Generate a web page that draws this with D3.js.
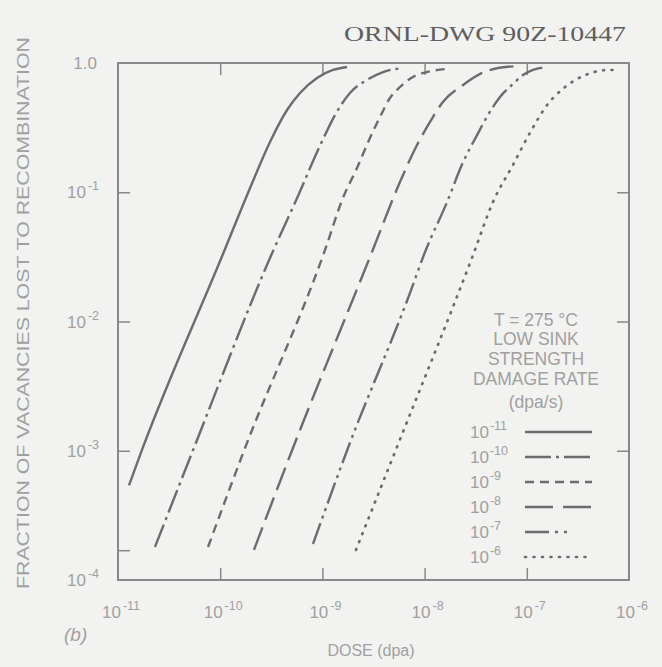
<!DOCTYPE html>
<html><head><meta charset="utf-8">
<script src="https://cdn.jsdelivr.net/npm/d3@7"></script>
<style>body{margin:0;background:#f2f2f0}svg{display:block}</style>
</head><body><svg id="c" width="662" height="667"></svg>
<script>
// ---------- data ----------
const xTickValues = [1e-11, 1e-10, 1e-9, 1e-8, 1e-7, 1e-6];
const xTickExps = ["-11", "-10", "-9", "-8", "-7", "-6"];
const yTickValues = [1e-4, 1e-3, 1e-2, 1e-1, 1];
const yTickExps = ["-4", "-3", "-2", "-1", null];
const yExtraTick = [1.7e-4];
const rateExps = ["-11", "-10", "-9", "-8", "-7", "-6"];
const legendTitle = ["T = 275 °C", "LOW SINK", "STRENGTH", "DAMAGE RATE", "(dpa/s)"];

const rate11 = [[1.28e-11,5.4e-4],[1.76e-11,1.07e-3],[1.06e-10,3.3e-2],[1.96e-10,0.108],[3.07e-10,0.245],[4.51e-10,0.433],[6.04e-10,0.586],[8.85e-10,0.766],[1.27e-9,0.883],[1.74e-9,0.931]];
const rate10 = [[2.30e-11,1.80e-4],[5.42e-11,1.01e-3],[3.07e-10,3.10e-2],[6.31e-10,0.110],[7.57e-10,0.154],[1.06e-9,0.277],[1.33e-9,0.396],[1.86e-9,0.586],[2.73e-9,0.740],[3.92e-9,0.851],[6.15e-9,0.914]];
const rate9 = [[7.60e-11,1.80e-4],[1.75e-10,1.05e-3],[1.06e-9,3.57e-2],[1.59e-9,9.04e-2],[2.18e-9,0.154],[2.92e-9,0.263],[3.66e-9,0.382],[4.58e-9,0.536],[5.74e-9,0.652],[7.69e-9,0.780],[1.05e-8,0.851],[1.66e-8,0.900]];
const rate8 = [[2.14e-10,1.71e-4],[5.15e-10,1.05e-3],[2.92e-9,3.15e-2],[5.74e-9,0.120],[8.43e-9,0.232],[1.13e-8,0.350],[1.51e-8,0.499],[2.38e-8,0.676],[3.65e-8,0.838],[5.22e-8,0.914],[8.57e-8,0.948]];
const rate7 = [[8.09e-10,1.90e-4],[1.78e-9,1.05e-3],[7.19e-9,1.66e-2],[1.01e-8,3.45e-2],[1.66e-8,8.41e-2],[2.38e-8,0.171],[3.26e-8,0.277],[4.17e-8,0.396],[5.47e-8,0.546],[7.16e-8,0.676],[9.18e-8,0.807],[1.15e-7,0.883],[1.58e-7,0.931]];
const rate6 = [[2.13e-9,1.71e-4],[5.37e-9,1.07e-3],[2.98e-8,3.27e-2],[4.67e-8,8.41e-2],[7.33e-8,0.163],[1.07e-7,0.287],[1.58e-7,0.473],[2.37e-7,0.652],[3.97e-7,0.822],[6.24e-7,0.883],[7.64e-7,0.883]];
const seriesData = [rate11, rate10, rate9, rate8, rate7, rate6];

// ---------- styles ----------
const dashes = [null, "24,5,3,5", "9,6", "24,8", "22,5,3,5,3,5", "1,7.5"];
const legendDashes = [null, "26,5,3,5", "9,6", "28,10", "24,6,3,6,3,25", "1,7.5"];
const caps = ["butt","butt","butt","butt","butt","round"];
const ink = "#6c6c6c";
const txt = "#a0a0a0";
const sans = "'Liberation Sans', Arial, sans-serif";

const svg = d3.select("#c");
const L = 118, R = 629, T = 63, B = 580;
const x = d3.scaleLog().domain([1e-11, 1e-6]).range([L, R]);
const y = d3.scaleLog().domain([1e-4, 1]).range([B, T]);

// title
svg.append("text").attr("x", 344).attr("y", 41)
  .attr("font-family", "'Liberation Serif', 'Times New Roman', serif").attr("font-size", 21)
  .attr("textLength", 282).attr("lengthAdjust", "spacingAndGlyphs")
  .attr("fill", "#5e5e5e").text("ORNL-DWG 90Z-10447");

// frame
svg.append("rect").attr("x", L).attr("y", T).attr("width", R - L).attr("height", B - T)
  .attr("fill", "none").attr("stroke", "#888").attr("stroke-width", 2);

// axes (ticks inward)
const inner = xTickValues.slice(1, -1);
const gB = svg.append("g").attr("transform", `translate(0,${B})`)
  .call(d3.axisBottom(x).tickValues(inner).tickSize(-12).tickFormat(""));
const gT = svg.append("g").attr("transform", `translate(0,${T})`)
  .call(d3.axisTop(x).tickValues(inner).tickSize(-12).tickFormat(""));
const gL = svg.append("g").attr("transform", `translate(${L},0)`)
  .call(d3.axisLeft(y).tickValues([1e-3, 1e-2, 1e-1].concat(yExtraTick)).tickSize(-12).tickFormat(""));
const gR = svg.append("g").attr("transform", `translate(${R},0)`)
  .call(d3.axisRight(y).tickValues([1e-3, 1e-2, 1e-1]).tickSize(-12).tickFormat(""));
[gB, gT, gL, gR].forEach(g => {
  g.select(".domain").remove();
  g.selectAll("line").attr("stroke", "#888").attr("stroke-width", 1.5);
});

// x tick labels
xTickValues.forEach((v, i) => {
  const t = svg.append("text").attr("x", x(v) + 3).attr("y", 618).attr("text-anchor", "middle")
    .attr("font-family", sans).attr("font-size", 17).attr("fill", txt);
  t.append("tspan").text("10");
  t.append("tspan").attr("dx", 2).attr("dy", -8).attr("font-size", 12.5).text(xTickExps[i]);
});
// y tick labels
yTickValues.forEach((v, i) => {
  const t = svg.append("text").attr("x", 99).attr("y", y(v) + 6).attr("text-anchor", "end")
    .attr("font-family", sans).attr("font-size", 17).attr("fill", txt);
  if (yTickExps[i] === null) { t.attr("x", 97).text("1.0"); return; }
  t.append("tspan").text("10");
  t.append("tspan").attr("dx", 2).attr("dy", -8).attr("font-size", 12.5).text(yTickExps[i]);
});

// axis titles
svg.append("text").attr("x", 371).attr("y", 656).attr("text-anchor", "middle")
  .attr("font-family", sans).attr("font-size", 16).attr("fill", txt).text("DOSE (dpa)");
svg.append("text").attr("transform", `translate(29,313) rotate(-90)`).attr("text-anchor", "middle")
  .attr("font-family", sans).attr("font-size", 16)
  .attr("textLength", 552).attr("lengthAdjust", "spacingAndGlyphs")
  .attr("fill", txt).text("FRACTION OF VACANCIES LOST TO RECOMBINATION");
svg.append("text").attr("x", 64).attr("y", 641).attr("font-family", sans).attr("font-style", "italic")
  .attr("font-size", 19).attr("fill", txt).text("(b)");

// curves
const line = d3.line().x(d => x(d[0])).y(d => y(d[1])).curve(d3.curveMonotoneX);
seriesData.forEach((s, i) => {
  svg.append("path").attr("d", line(s)).attr("fill", "none").attr("stroke", ink)
    .attr("stroke-width", i === 5 ? 2.7 : 2.4).attr("stroke-linecap", caps[i])
    .attr("stroke-dasharray", dashes[i]);
});

// legend
const lgX = 536;
const lgY = [326, 345, 365, 385, 408];
legendTitle.forEach((s, i) => {
  svg.append("text").attr("x", lgX).attr("y", lgY[i]).attr("text-anchor", "middle")
    .attr("font-family", sans).attr("font-size", 17.5).attr("fill", txt).text(s);
});
rateExps.forEach((e, i) => {
  const yy = 432 + i * 25;
  const t = svg.append("text").attr("x", 470).attr("y", yy + 6)
    .attr("font-family", sans).attr("font-size", 17).attr("fill", txt);
  t.append("tspan").text("10");
  t.append("tspan").attr("dx", 1).attr("dy", -8).attr("font-size", 12.5).text(e);
  svg.append("line").attr("x1", 525).attr("x2", 592).attr("y1", yy).attr("y2", yy)
    .attr("stroke", ink).attr("stroke-width", i === 5 ? 2.7 : 2.4).attr("stroke-linecap", caps[i])
    .attr("stroke-dasharray", legendDashes[i]);
});
</script></body></html>
